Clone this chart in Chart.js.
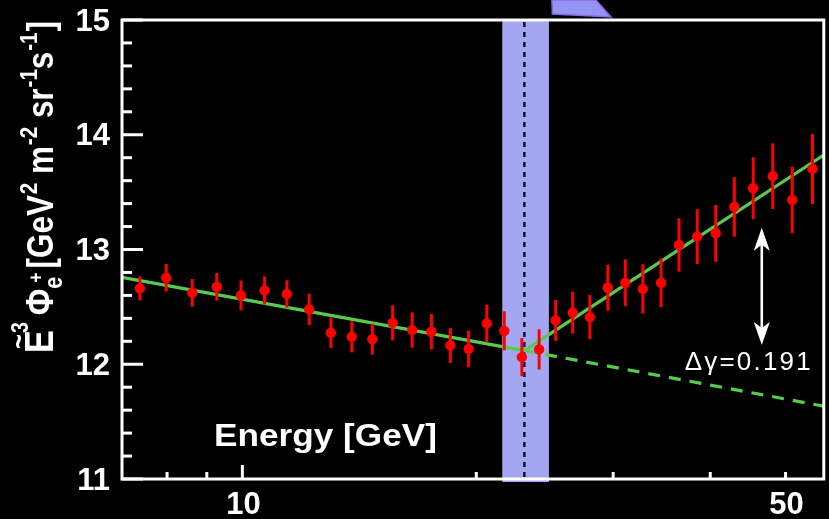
<!DOCTYPE html>
<html>
<head>
<meta charset="utf-8">
<script src="https://cdn.jsdelivr.net/npm/chart.js@4/dist/chart.umd.min.js"></script>
<style>
  html, body { margin: 0; padding: 0; background: #000; overflow: hidden; }
  canvas { display: block; }
</style>
</head>
<body>
<canvas id="c" width="829" height="519"></canvas>
<script>
// Positron flux scaled by E^3, with a broken power-law fit
const energy = [7.38, 7.98, 8.62, 9.27, 9.96, 10.68, 11.41, 12.19, 13.00, 13.83, 14.70, 15.61, 16.54, 17.51, 18.52, 19.55, 20.63, 21.73, 22.89, 24.09, 25.30, 26.61, 28.00, 29.53, 31.10, 32.76, 34.58, 36.46, 38.49, 40.65, 42.96, 45.43, 48.14, 51.00, 54.16];
const flux = [12.661, 12.754, 12.623, 12.675, 12.600, 12.644, 12.612, 12.478, 12.274, 12.239, 12.219, 12.361, 12.298, 12.283, 12.164, 12.134, 12.356, 12.291, 12.062, 12.129, 12.382, 12.450, 12.411, 12.667, 12.710, 12.657, 12.710, 13.039, 13.112, 13.141, 13.371, 13.534, 13.639, 13.432, 13.702];
const fluxErr = [0.105, 0.120, 0.120, 0.120, 0.130, 0.122, 0.120, 0.137, 0.134, 0.135, 0.134, 0.153, 0.154, 0.155, 0.153, 0.160, 0.164, 0.170, 0.166, 0.175, 0.179, 0.183, 0.192, 0.200, 0.204, 0.215, 0.212, 0.233, 0.240, 0.247, 0.259, 0.270, 0.286, 0.290, 0.305];

// Fit: single power law below the break (continued dashed), steeper one above
const fitEnergy = [7, 23.06, 56];
const fitLow = [12.757, 12.119, 11.635];
const fitHigh = [12.119, 13.823];

// Transition energy with its uncertainty band
const breakEnergy = 23.06;
const breakBand = [21.6, 24.8];

// Spectral index change marker
const arrowEnergy = 46.60;
const arrowRange = [12.167, 13.190];
const deltaLabel = 'Δγ=0.191';
const deltaAt = [37.08, 11.953];

const xMinorTicks = [8, 9, 20, 30, 40, 50];
const xMajorTicks = [10];
const xTickLabels = [[10, '10'], [50, '50']];
const yTickLabels = ['11', '12', '13', '14', '15'];

const FONT = '"Liberation Sans", Arial, Helvetica, sans-serif';
const GREEN = '#57cc4c';
const RED = '#ff0000';

const pts = energy.map((e, i) => ({ x: e, y: flux[i] }));
const lowSolid = [{ x: fitEnergy[0], y: fitLow[0] }, { x: fitEnergy[1], y: fitLow[1] }];
const lowDashed = [{ x: fitEnergy[1], y: fitLow[1] }, { x: fitEnergy[2], y: fitLow[2] }];
const highSolid = [{ x: fitEnergy[1], y: fitHigh[0] }, { x: fitEnergy[2], y: fitHigh[1] }];

const background = {
  id: 'background',
  beforeDraw(chart) {
    const ctx = chart.ctx;
    ctx.save();
    ctx.fillStyle = '#000';
    ctx.fillRect(0, 0, chart.width, chart.height);
    ctx.restore();
  }
};

const bandPlugin = {
  id: 'band',
  beforeDatasetsDraw(chart) {
    const { ctx, chartArea: a, scales: { x } } = chart;
    const x0 = x.getPixelForValue(breakBand[0]);
    const x1 = x.getPixelForValue(breakBand[1]);
    ctx.save();
    ctx.fillStyle = '#a3a7f2';
    ctx.fillRect(x0, a.top, x1 - x0, a.bottom - a.top + 3);
    const xb = x.getPixelForValue(breakEnergy);
    ctx.strokeStyle = '#12122a';
    ctx.lineWidth = 2.5;
    ctx.setLineDash([5, 5]);
    ctx.beginPath();
    ctx.moveTo(xb, a.top + 2);
    ctx.lineTo(xb, a.bottom + 2);
    ctx.stroke();
    ctx.restore();
  }
};

const errorBars = {
  id: 'errorBars',
  beforeDatasetDraw(chart, args) {
    if (args.index !== 0) return;
    const { ctx, scales: { x, y } } = chart;
    ctx.save();
    ctx.strokeStyle = RED;
    ctx.lineWidth = 3;
    energy.forEach((e, i) => {
      const px = x.getPixelForValue(e);
      ctx.beginPath();
      ctx.moveTo(px, y.getPixelForValue(flux[i] - fluxErr[i]));
      ctx.lineTo(px, y.getPixelForValue(flux[i] + fluxErr[i]));
      ctx.stroke();
    });
    ctx.restore();
  }
};

function arrowHead(ctx, x, tipY, dir) {
  // dir = -1 points up, +1 points down
  const len = 23, half = 8, notch = 17;
  ctx.beginPath();
  ctx.moveTo(x, tipY);
  ctx.lineTo(x - half, tipY - dir * len);
  ctx.lineTo(x, tipY - dir * notch);
  ctx.lineTo(x + half, tipY - dir * len);
  ctx.closePath();
  ctx.fill();
}

const frameAndLabels = {
  id: 'frameAndLabels',
  afterDatasetsDraw(chart) {
    const { ctx, chartArea: a, scales: { x, y } } = chart;
    ctx.save();
    ctx.strokeStyle = '#fff';
    ctx.fillStyle = '#fff';
    ctx.lineWidth = 3;
    ctx.setLineDash([]);

    // frame
    ctx.strokeRect(a.left, a.top, a.right - a.left, a.bottom - a.top);

    // y ticks (inward): majors every 1, minors every 0.2
    for (let k = 0; k <= 20; k++) {
      const v = 11 + k * 0.2;
      const py = y.getPixelForValue(v);
      const len = (k % 5 === 0) ? 21 : 10;
      ctx.beginPath();
      ctx.moveTo(a.left, py);
      ctx.lineTo(a.left + len, py);
      ctx.stroke();
    }
    // x ticks (inward)
    xMinorTicks.forEach(v => {
      const px = x.getPixelForValue(v);
      ctx.beginPath();
      ctx.moveTo(px, a.bottom);
      ctx.lineTo(px, a.bottom - 7);
      ctx.stroke();
    });
    xMajorTicks.forEach(v => {
      const px = x.getPixelForValue(v);
      ctx.beginPath();
      ctx.moveTo(px, a.bottom);
      ctx.lineTo(px, a.bottom - 14);
      ctx.stroke();
    });

    // tick labels
    ctx.font = 'bold 31px ' + FONT;
    ctx.textAlign = 'right';
    ctx.textBaseline = 'middle';
    yTickLabels.forEach(t => {
      ctx.fillText(t, 110, y.getPixelForValue(Number(t)) + 2);
    });
    ctx.textAlign = 'center';
    ctx.textBaseline = 'alphabetic';
    xTickLabels.forEach(([v, t]) => {
      ctx.fillText(t, x.getPixelForValue(v) + 1, 514);
    });

    // x axis title, inside the frame
    ctx.save();
    ctx.font = 'bold 32px ' + FONT;
    ctx.textAlign = 'left';
    ctx.translate(a.left + 92, a.bottom - 33);
    ctx.scale(1.1, 1);
    ctx.fillText('Energy [GeV]', 0, 0);
    ctx.restore();

    // double arrow between the two slopes
    const ax = x.getPixelForValue(arrowEnergy);
    const yTop = y.getPixelForValue(arrowRange[1]);
    const yBot = y.getPixelForValue(arrowRange[0]);
    ctx.lineWidth = 2.6;
    ctx.beginPath();
    ctx.moveTo(ax, yTop + 14);
    ctx.lineTo(ax, yBot - 14);
    ctx.stroke();
    arrowHead(ctx, ax, yTop, -1);
    arrowHead(ctx, ax, yBot, 1);

    // slope change label
    ctx.font = '26px ' + FONT;
    ctx.textAlign = 'left';
    ctx.textBaseline = 'alphabetic';
    if ('letterSpacing' in ctx) ctx.letterSpacing = '2.2px';
    ctx.fillText(deltaLabel, x.getPixelForValue(deltaAt[0]), y.getPixelForValue(deltaAt[1]));
    if ('letterSpacing' in ctx) ctx.letterSpacing = '0px';
    ctx.restore();
  }
};

function drawYTitle(ctx, measureOnly, uScale) {
  // rotated title: baseline runs upward along x = 53
  let u = 0;
  const put = (t, size, v, gap) => {
    ctx.font = 'bold ' + size + 'px ' + FONT;
    u += (gap || 0);
    if (!measureOnly) ctx.fillText(t, u, v);
    const s = u;
    u += ctx.measureText(t).width;
    return s;
  };
  if (!measureOnly) {
    ctx.translate(53, 355);
    ctx.scale(1.15, 1);
    ctx.rotate(-Math.PI / 2);
    ctx.scale(uScale, 1);
    ctx.fillStyle = '#fff';
    ctx.textAlign = 'left';
    ctx.textBaseline = 'alphabetic';
  }
  const e0 = put('E', 35, 0, 2);
  const e1 = u;
  if (!measureOnly) {
    ctx.save();
    ctx.font = 'bold 26px ' + FONT;
    ctx.textAlign = 'center';
    ctx.fillText('~', (e0 + e1) / 2, -22);
    ctx.restore();
  }
  put('3', 20, -22, -3);
  u += 7;
  put('Φ', 33, 0);
  put('e', 22, 8);
  put('+', 18, -9, -6);
  u += 4;
  put('[GeV', 32, 0);
  put('2', 21, -14, 1);
  put(' m', 32, 0);
  put('-2', 21, -14, 1);
  put(' sr', 32, 0);
  put('-1', 21, -14, 1);
  put('s', 32, 0);
  put('-1', 21, -14, 1);
  put(']', 32, 0, 1);
  return u;
}

const yTitle = {
  id: 'yTitle',
  afterDraw(chart) {
    const ctx = chart.ctx;
    ctx.save();
    const total = drawYTitle(ctx, true, 1);
    const k = 334 / total;
    drawYTitle(ctx, false, k);
    ctx.restore();

    // partly visible marker above the frame
    const a = chart.chartArea;
    const bx = chart.scales.x.getPixelForValue(breakBand[1]);
    ctx.save();
    ctx.fillStyle = '#9694f2';
    ctx.strokeStyle = '#8466e6';
    ctx.lineWidth = 1.5;
    ctx.beginPath();
    ctx.moveTo(bx + 3, 0);
    ctx.lineTo(bx + 47, 0);
    ctx.lineTo(bx + 62, a.top - 3);
    ctx.lineTo(bx + 3.5, a.top - 6);
    ctx.closePath();
    ctx.fill();
    ctx.stroke();
    ctx.restore();
  }
};

new Chart(document.getElementById('c'), {
  type: 'scatter',
  data: {
    datasets: [
      {
        label: 'data',
        data: pts,
        backgroundColor: RED,
        borderColor: RED,
        pointRadius: 5.2,
        pointBorderWidth: 0,
        pointHoverRadius: 5.2,
        order: 0
      },
      {
        label: 'fit low',
        data: lowSolid,
        showLine: true,
        borderColor: GREEN,
        borderWidth: 3.2,
        pointRadius: 0,
        order: 1
      },
      {
        label: 'fit high',
        data: highSolid,
        showLine: true,
        borderColor: GREEN,
        borderWidth: 3.2,
        pointRadius: 0,
        order: 1
      },
      {
        label: 'extrapolation',
        data: lowDashed,
        showLine: true,
        borderColor: GREEN,
        borderWidth: 3.2,
        borderDash: [12, 9],
        pointRadius: 0,
        order: 1
      }
    ]
  },
  options: {
    responsive: false,
    devicePixelRatio: 1,
    animation: false,
    events: [],
    layout: { padding: { left: 122, top: 20, right: 1, bottom: 40 } },
    scales: {
      x: { type: 'logarithmic', min: 7, max: 56, display: false },
      y: { type: 'linear', min: 11, max: 15, display: false }
    },
    plugins: {
      legend: { display: false },
      tooltip: { enabled: false }
    }
  },
  plugins: [background, bandPlugin, errorBars, frameAndLabels, yTitle]
});
</script>
</body>
</html>
